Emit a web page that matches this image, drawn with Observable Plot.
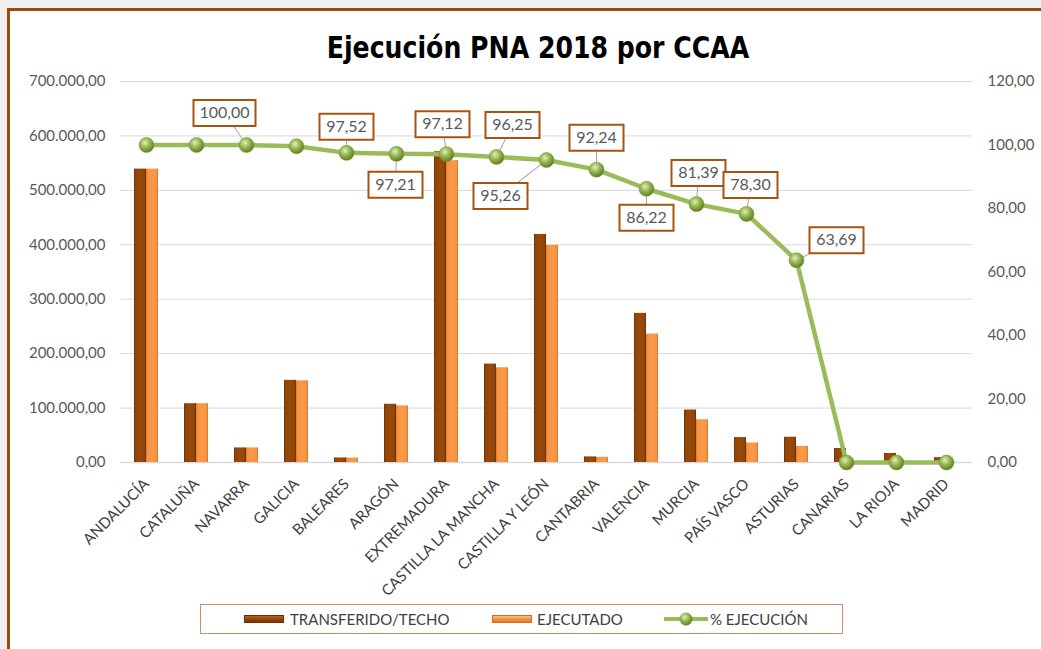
<!DOCTYPE html>
<html>
<head>
<meta charset="utf-8">
<script src="https://cdn.jsdelivr.net/npm/d3@7"></script>
<script src="https://cdn.jsdelivr.net/npm/@observablehq/plot@0.6"></script>
<style>
html,body{margin:0;padding:0;background:#f0f0f0;width:1041px;height:649px;overflow:hidden;position:relative;}
#frame{position:absolute;left:7px;top:8px;width:1100px;height:700px;background:#fff;border-top:3px solid #9c4a0c;border-left:3px solid #9c4a0c;}
#title{position:absolute;left:0;top:31px;width:1076px;text-align:center;font-family:"DejaVu Sans Condensed","DejaVu Sans",sans-serif;font-stretch:condensed;font-weight:bold;font-size:28px;color:#000;line-height:34px;transform:scaleY(1.1);transform-origin:50% 50%;}
#chart{position:absolute;left:0;top:65px;}
#legend{position:absolute;left:200px;top:604px;width:641px;height:28px;border:1px solid #c8906a;background:#fff;font-family:Lato,sans-serif;font-size:15px;color:#404040;}
#legend .sw{position:absolute;top:10px;width:40px;height:8px;}
#legend .tx{position:absolute;top:5px;line-height:18px;white-space:nowrap;}
</style>
</head>
<body>
<div id="frame"></div>
<div id="title">Ejecución PNA 2018 por CCAA</div>
<div id="chart"></div>
<div id="legend">
  <div class="sw" style="left:43px;background:linear-gradient(#b8621c,#984807 45%,#7a3605);border:1px solid #6b3005;box-sizing:border-box;"></div>
  <div class="tx" style="left:89px;">TRANSFERIDO/TECHO</div>
  <div class="sw" style="left:291px;background:linear-gradient(#fcc48a,#f79646 45%,#e07a2a);border:1px solid #d06e25;box-sizing:border-box;"></div>
  <div class="tx" style="left:336px;">EJECUTADO</div>
  <svg style="position:absolute;left:462px;top:5px;" width="46" height="18">
    <defs>
      <radialGradient id="ballL" cx="40%" cy="35%" r="65%">
        <stop offset="0%" stop-color="#e2f0b8"/>
        <stop offset="45%" stop-color="#9bbb59"/>
        <stop offset="100%" stop-color="#5f7d24"/>
      </radialGradient>
    </defs>
    <line x1="1" x2="45" y1="9" y2="9" stroke="#9bbb59" stroke-width="4"/>
    <circle cx="23" cy="9" r="6.5" fill="url(#ballL)"/>
  </svg>
  <div class="tx" style="left:509px;">% EJECUCIÓN</div>
</div>
<script>
// ---- Data ----
const categories = ["ANDALUCÍA","CATALUÑA","NAVARRA","GALICIA","BALEARES","ARAGÓN","EXTREMADURA","CASTILLA LA MANCHA","CASTILLA Y LEÓN","CANTABRIA","VALENCIA","MURCIA","PAÍS VASCO","ASTURIAS","CANARIAS","LA RIOJA","MADRID"];
const transferido = [539000,108000,26800,151000,8400,107000,571000,180800,419000,10300,274000,96400,45800,46400,25700,16500,9000];
const ejecutado   = [539000,108000,26800,150000,8200,104000,554600,174000,399000,9500,236000,78500,35900,29600,0,0,0];
const pctEjecucion = [100,100,100,99.6,97.52,97.21,97.12,96.25,95.26,92.24,86.22,81.39,78.30,63.69,0,0,0];
const labelledCategories = ["NAVARRA","BALEARES","ARAGÓN","EXTREMADURA","CASTILLA LA MANCHA","CASTILLA Y LEÓN","CANTABRIA","VALENCIA","MURCIA","PAÍS VASCO","ASTURIAS"];
const leftTicks = [0,100000,200000,300000,400000,500000,600000,700000];
const rightTicks = [0,20,40,60,80,100,120];

// ---- Layout config (label offsets in px) ----
const labelOffsets = {
  "NAVARRA":[-22,-32], "BALEARES":[0,-26], "ARAGÓN":[-1,31], "EXTREMADURA":[-4,-30],
  "CASTILLA LA MANCHA":[16,-32], "CASTILLA Y LEÓN":[-46,36], "CANTABRIA":[0,-32],
  "VALENCIA":[0,29], "MURCIA":[2,-31], "PAÍS VASCO":[4,-29], "ASTURIAS":[40,-20]
};

const leftMax = 700000, rightMax = 120;
const toLeft = v => v / rightMax * leftMax;
const es = d3.formatLocale({decimal:",", thousands:".", grouping:[3], currency:["","€"]});
const fmt2 = es.format(",.2f");

const rows = categories.map((c,i) => ({cat:c, transferido:transferido[i], ejecutado:ejecutado[i], pct:pctEjecucion[i]}));
const labels = rows.filter(r => labelledCategories.includes(r.cat));

const lineShape = {draw(ctx, l) { ctx.moveTo(0,0); ctx.lineTo(0,-l); }};
const boxSymbol = w => ({draw(ctx) { ctx.rect(-w/2, -13, w, 26); }});

const labelMarks = [];
for (const l of labels) {
  const [dx, dy] = labelOffsets[l.cat];
  const len = Math.hypot(dx, dy);
  const rot = Math.atan2(dx, -dy) * 180 / Math.PI;
  labelMarks.push(Plot.vector([l], {x:"cat", y:d => toLeft(d.pct), length:len, rotate:rot, anchor:"start", shape:lineShape, stroke:"#a6a6a6", strokeWidth:1}));
}
const boxMarks = [];
for (const l of labels) {
  const [dx, dy] = labelOffsets[l.cat];
  const txt = fmt2(l.pct);
  const w = txt.length * 8 + 14;
  boxMarks.push(Plot.dot([l], {x:"cat", y:d => toLeft(d.pct), dx, dy, r:5, symbol:boxSymbol(w), fill:"#fff", stroke:"#a5530f", strokeWidth:2}));
  boxMarks.push(Plot.text([l], {x:"cat", y:d => toLeft(d.pct), dx, dy, text:d => fmt2(d.pct), fontSize:16, fill:"#595959"}));
}

const chart = Plot.plot({
  width:1041, height:584,
  marginLeft:120, marginRight:69, marginTop:16, marginBottom:187,
  x:{domain:categories, paddingInner:0.52, paddingOuter:0.26, label:null},
  y:{domain:[0, leftMax], label:null},
  style:{fontFamily:"Lato, sans-serif", fontSize:"15px", color:"#595959", background:"transparent", overflow:"visible"},
  marks:[
    Plot.gridY(leftTicks, {stroke:"#d9d9d9", strokeOpacity:1}),
    Plot.ruleY([0], {stroke:"#d9d9d9", strokeWidth:1.5}),
    Plot.axisY(leftTicks, {anchor:"left", tickSize:0, tickPadding:15, tickFormat:fmt2, label:null}),
    Plot.axisY(rightTicks.map(toLeft), {anchor:"right", tickSize:0, tickPadding:15, tickFormat:d => fmt2(d / leftMax * rightMax), label:null}),
    Plot.axisX({tickSize:0, tickRotate:-45, tickPadding:19, label:null, fontSize:15, fill:"#404040"}),
    Plot.barY(rows, {x:"cat", y:"transferido", fill:"url(#gDark)", insetRight:12}),
    Plot.barY(rows, {x:"cat", y:"ejecutado", fill:"url(#gLight)", insetLeft:12}),
    Plot.line(rows, {x:"cat", y:d => toLeft(d.pct), stroke:"#9bbb59", strokeWidth:4.5}),
    ...labelMarks,
    Plot.dot(rows, {x:"cat", y:d => toLeft(d.pct), r:7.5, fill:"url(#ball)", stroke:"#7d9b3c", strokeWidth:0.6}),
    ...boxMarks
  ]
});
document.getElementById("chart").appendChild(chart);

// gradients for bars and markers
const defs = d3.select(chart).insert("defs", ":first-child");
const lg = (id, stops) => {
  const g = defs.append("linearGradient").attr("id", id).attr("x1","0").attr("x2","1").attr("y1","0").attr("y2","0");
  stops.forEach(([o,c]) => g.append("stop").attr("offset", o).attr("stop-color", c));
};
lg("gDark", [["0%","#6b3005"],["12%","#8e4409"],["50%","#9a4a0a"],["88%","#8e4409"],["100%","#5e2a04"]]);
lg("gLight", [["0%","#d9762c"],["12%","#f7923f"],["50%","#f99a4c"],["88%","#f7923f"],["100%","#d06e25"]]);
const rg = defs.append("radialGradient").attr("id","ball").attr("cx","40%").attr("cy","35%").attr("r","65%");
[["0%","#e2f0b8"],["45%","#9bbb59"],["100%","#5f7d24"]].forEach(([o,c]) => rg.append("stop").attr("offset",o).attr("stop-color",c));
</script>
</body>
</html>
